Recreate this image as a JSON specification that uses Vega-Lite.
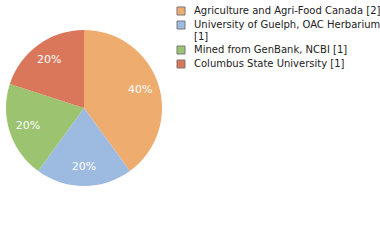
{
  "$schema": "https://vega.github.io/schema/vega-lite/v6.json",
  "width": 168,
  "height": 216,
  "padding": 0,
  "autosize": {"type": "pad"},
  "background": "white",
  "view": {"stroke": null},
  "data": {"values": [
    {"inst": "Agriculture and Agri-Food Canada [2]", "count": 2, "pct": "40%", "ord": 1},
    {"inst": "University of Guelph, OAC Herbarium [1]", "count": 1, "pct": "20%", "ord": 2},
    {"inst": "Mined from GenBank, NCBI [1]", "count": 1, "pct": "20%", "ord": 3},
    {"inst": "Columbus State University [1]", "count": 1, "pct": "20%", "ord": 4}
  ]},
  "encoding": {
    "theta": {"field": "count", "type": "quantitative", "stack": true},
    "order": {"field": "ord", "type": "quantitative"}
  },
  "layer": [
    {
      "mark": {"type": "arc", "outerRadius": 78},
      "encoding": {
        "color": {
          "field": "inst", "type": "nominal",
          "sort": ["Agriculture and Agri-Food Canada [2]", "University of Guelph, OAC Herbarium [1]", "Mined from GenBank, NCBI [1]", "Columbus State University [1]"],
          "scale": {"range": ["#EFAC6F", "#9DBAE0", "#9CC470", "#DA765A"]},
          "legend": {
            "title": null,
            "orient": "none",
            "legendX": 176,
            "legendY": 6,
            "symbolType": "square",
            "symbolSize": 64,
            "symbolStrokeWidth": 1,
            "symbolStrokeColor": "#777777",
            "labelFont": "DejaVu Sans",
            "labelFontSize": 10,
            "labelColor": "#222222",
            "labelLimit": 300,
            "labelOffset": 8,
            "labelLineHeight": 12,
            "rowPadding": 2,
            "labelExpr": "datum.label == 'University of Guelph, OAC Herbarium [1]' ? ['University of Guelph, OAC Herbarium', '[1]'] : datum.label"
          }
        }
      }
    },
    {
      "mark": {"type": "text", "radius": 59, "font": "DejaVu Sans", "fontSize": 11, "color": "white"},
      "encoding": {"text": {"field": "pct"}}
    }
  ]
}
